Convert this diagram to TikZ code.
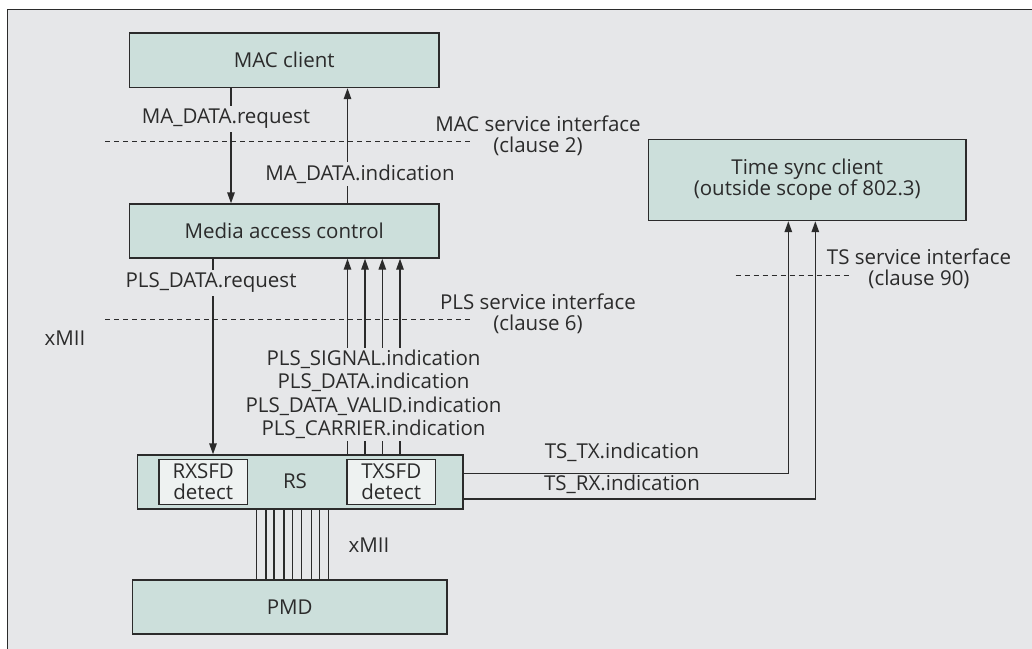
\documentclass[tikz,border=0pt]{standalone}
\usepackage{fontspec}
\setmainfont{Open Sans}
\usetikzlibrary{arrows.meta}
\definecolor{bgc}{HTML}{E6E7E9}
\definecolor{boxc}{HTML}{CCDFDB}
\definecolor{inc}{HTML}{EEF2F1}
\definecolor{ln}{HTML}{2B2B2B}
\begin{document}
\begin{tikzpicture}[x=1pt,y=-1pt,
 every node/.style={font=\fontsize{20.5}{21}\selectfont, text=ln},
 blk/.style={draw=ln, line width=1.4pt, fill=boxc, inner sep=0pt, align=center},
 inbox/.style={draw=ln, line width=1.2pt, fill=inc, inner sep=0pt, align=center},
 lab/.style={fill=bgc, inner sep=3pt, align=center},
 plain/.style={inner sep=0pt, align=center},
 arr/.style={draw=ln, line width=1.4pt, -{Triangle[length=11pt,width=7.5pt]}},
 wire/.style={draw=ln, line width=1.3pt},
 dsh/.style={draw=ln, line width=0.9pt, dash pattern=on 5pt off 4pt}]
\useasboundingbox (0,0) rectangle (1032,648);
\fill[white] (0,0) rectangle (1032,648);
\fill[bgc] (7,9) rectangle (1040,660);
\draw[ln, line width=1pt] (1040,9) -- (7,9) -- (7,660);

% blocks
\node[blk, minimum width=309.5pt, minimum height=54.5pt] (mac) at (284.25,60.25) {MAC client};
\node[blk, minimum width=309.5pt, minimum height=54pt] (mca) at (284.25,231) {Media access control};
\node[blk, minimum width=325.5pt, minimum height=54pt] (rs) at (300.25,482) {};
\node[plain] (rslab) at (295,481) {RS};
\node[inbox, minimum width=88.5pt, minimum height=45pt] (rx) at (203.25,481.7) {RXSFD\\detect};
\node[inbox, minimum width=88.5pt, minimum height=45pt] (tx) at (391.25,481.7) {TXSFD\\detect};
\node[blk, minimum width=314.5pt, minimum height=54pt] (pmd) at (289.75,607) {PMD};
\node[blk, minimum width=317.5pt, minimum height=81pt] (tsc) at (807.25,180) {Time sync client\\(outside scope of 802.3)};

% x positions
\coordinate (xa) at (231,0);
\coordinate (xb) at (347.5,0);
\coordinate (xc) at (213,0);
\coordinate (tx1) at (788.3,0);
\coordinate (tx2) at (815.3,0);
\coordinate (ty1) at (0,473.7);
\coordinate (ty2) at (0,499);

% MAC arrows
\draw[arr] (mac.south -| xa) -- (mca.north -| xa);
\draw[arr] (mca.north -| xb) -- (mac.south -| xb);
% PLS request
\draw[arr] (mca.south -| xc) -- (rs.north -| xc);
% PLS indications
\foreach \x [count=\i] in {347.5,365,382.3,400}{
  \coordinate (pi\i) at (\x,0);
  \draw[arr] (rs.north -| pi\i) -- (mca.south -| pi\i);
}
% TS lines
\draw[arr] (rs.east |- ty1) -| (tx1 |- tsc.south);
\draw[arr] (rs.east |- ty2) -| (tx2 |- tsc.south);
% bus
\foreach \x [count=\i] in {256.7,266,274,284,292.7,301.7,311.7,319.3,328.3}{
  \coordinate (bx\i) at (\x,0);
  \draw[wire] (rs.south -| bx\i) -- (pmd.north -| bx\i);
}

% dashed interfaces
\coordinate (d1a) at (105,141.5); \coordinate (d1b) at (473,141.5);
\coordinate (d2a) at (105,319); \coordinate (d2b) at (473,319);
\coordinate (d3a) at (735.5,275.5); \coordinate (d3b) at (850,275.5);
\draw[dsh] (d1a) -- (d1b);
\draw[dsh] (d2a) -- (d2b);
\draw[dsh] (d3a) -- (d3b);

% labels
\node[lab] (l1) at (226,119) {MA\_DATA.request};
\node[lab] (l2) at (360,174) {MA\_DATA.indication};
\node[lab] (l3) at (211,283) {PLS\_DATA.request};
\node[lab, inner ysep=2pt, font=\fontsize{20.5}{23.5}\selectfont] (l4) at (373.5,394.5) {PLS\_SIGNAL.indication\\PLS\_DATA.indication\\PLS\_DATA\_VALID.indication\\PLS\_CARRIER.indication};
\node[plain] (l5) at (538,135.5) {MAC service interface\\(clause 2)};
\node[plain] (l6) at (538,313.5) {PLS service interface\\(clause 6)};
\node[plain] (l7) at (919,269) {TS service interface\\(clause 90)};
\node[plain] (l8) at (65,338) {xMII};
\node[plain] (l9) at (369,545) {xMII};
\node[plain] (l10) at (622,452) {TS\_TX.indication};
\node[plain] (l11) at (622,484) {TS\_RX.indication};
\end{tikzpicture}
\end{document}
